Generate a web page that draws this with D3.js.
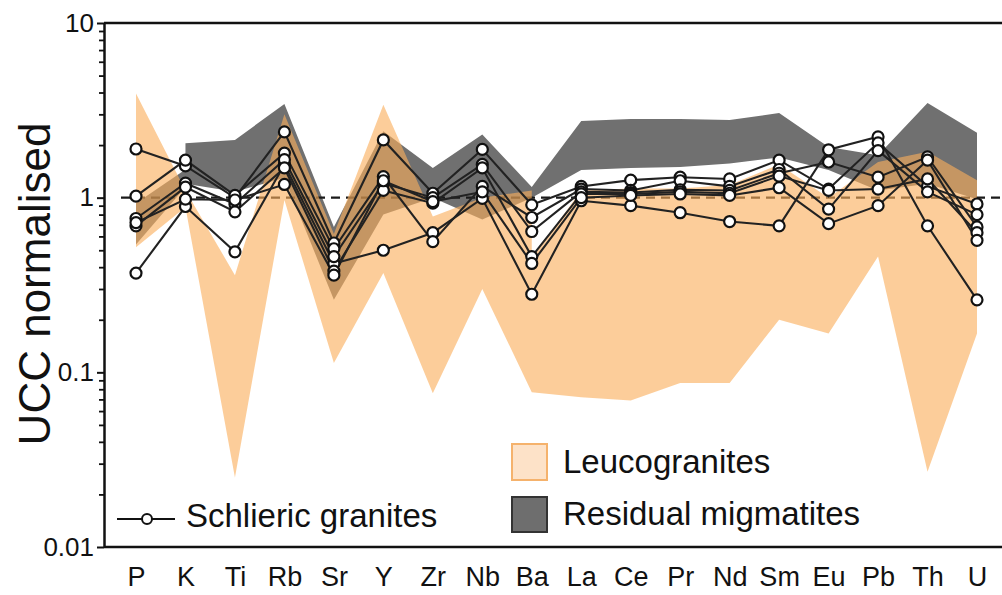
<!DOCTYPE html>
<html>
<head>
<meta charset="utf-8">
<script src="https://cdn.jsdelivr.net/npm/d3@7"></script>
<style>
  body { margin: 0; background: #fff; }
  svg { display: block; }
  text { font-family: "Liberation Sans", Arial, sans-serif; fill: #111; }
</style>
</head>
<body>
<svg id="chart" width="1002" height="595"></svg>
<script>
// Elements on the x axis (UCC-normalised spider diagram)
const elements = ["P", "K", "Ti", "Rb", "Sr", "Y", "Zr", "Nb", "Ba", "La", "Ce", "Pr", "Nd", "Sm", "Eu", "Pb", "Th", "U"];
const traceElements = elements.slice(0, 9);   // P ... Ba
const reeElements = elements.slice(8);        // Ba ... U
const headElements = elements.slice(0, 2);    // P, K
const tailElements = elements.slice(1);       // K ... U

// Log axis ticks
const yTickValues = [0.01, 0.1, 1, 10];
const yTickLabels = ["0.01", "0.1", "1", "10"];

// Leucogranite field, P to Ba (upper / lower envelope)
const leucoTraceHigh = [3.95, 1.1, 0.36, 3.0, 0.62, 3.4, 0.78, 1.0, 1.1];
const leucoTraceLow  = [0.52, 0.88, 0.025, 0.97, 0.113, 0.37, 0.076, 0.30, 0.077];
// Leucogranite field, Ba to U (upper / lower envelope)
const leucoReeHigh = [0.45, 1.1, 1.13, 1.13, 1.18, 1.55, 1.0, 1.6, 1.83, 1.26];
const leucoReeLow  = [0.077, 0.072, 0.069, 0.087, 0.087, 0.2, 0.167, 0.46, 0.027, 0.167];

// Residual migmatite field, P to K (upper / lower envelope)
const residHeadHigh = [0.93, 1.45];
const residHeadLow  = [0.54, 1.15];
// Residual migmatite field, K to U (upper / lower envelope)
const residHigh = [2.05, 2.14, 3.44, 0.68, 2.4, 1.48, 2.3, 1.15, 2.75, 2.82, 2.82, 2.78, 3.05, 1.95, 1.75, 3.48, 2.35];
const residLow  = [1.2, 1.08, 1.3, 0.26, 0.8, 1.0, 0.75, 1.0, 1.44, 1.48, 1.5, 1.57, 1.7, 1.44, 1.1, 1.2, 0.98];

// Schlieric granite samples
const sampleA = [0.37, 0.89, 0.49, 1.55, 0.42, 0.50, 0.63, 0.99, 0.28, 0.96, 0.90, 0.82, 0.73, 0.69, 1.88, 2.23, 0.69, 0.26];
const sampleB = [1.90, 1.52, 1.00, 2.38, 0.55, 2.14, 1.06, 1.89, 0.91, 1.16, 1.26, 1.31, 1.28, 1.64, 1.12, 2.06, 1.16, 0.92];
const sampleC = [1.02, 1.64, 1.03, 1.80, 0.51, 1.32, 0.56, 1.16, 0.77, 1.12, 1.10, 1.25, 1.16, 1.45, 0.86, 1.86, 1.08, 0.80];
const sampleD = [0.76, 1.21, 0.92, 1.65, 0.46, 1.21, 1.00, 1.55, 0.64, 1.08, 1.07, 1.11, 1.10, 1.38, 1.60, 1.31, 1.71, 0.68];
const sampleE = [0.69, 1.15, 0.83, 1.48, 0.38, 1.10, 0.93, 1.48, 0.46, 1.05, 1.05, 1.08, 1.06, 1.33, 1.10, 1.12, 1.28, 0.63];
const sampleF = [0.72, 0.98, 0.97, 1.19, 0.36, 1.25, 0.95, 1.08, 0.42, 1.00, 1.03, 1.05, 1.03, 1.14, 0.71, 0.90, 1.64, 0.57];
const schlieric = [sampleA, sampleB, sampleC, sampleD, sampleE, sampleF];

const svg = d3.select("#chart");
const plotLeft = 104, plotTop = 23, plotBottom = 547, plotRight = 1010;

const x = d3.scalePoint().domain(elements).range([136, 977]);
const y = d3.scaleLog().domain([0.01, 10]).range([plotBottom, plotTop]);

const fieldPath = (names, hi, lo) => d3.area()
  .x((d, i) => x(names[i]))
  .y1(d => y(d))
  .y0((d, i) => y(lo[i]))(hi);

// residual migmatite field
svg.append("path")
  .attr("d", fieldPath(headElements, residHeadHigh, residHeadLow) +
             fieldPath(tailElements, residHigh, residLow))
  .attr("fill", "#707070");

// reference line at UCC = 1
svg.append("line")
  .attr("x1", 121).attr("x2", plotRight)
  .attr("y1", y(1)).attr("y2", y(1))
  .attr("stroke", "#1a1a1a").attr("stroke-width", 2.2)
  .attr("stroke-dasharray", "9,6");

// leucogranite field (two joined polygons in one path), translucent so overlaps read darker
svg.append("path")
  .attr("d", fieldPath(traceElements, leucoTraceHigh, leucoTraceLow) +
             fieldPath(reeElements, leucoReeHigh, leucoReeLow))
  .attr("fill", "#faaf5c")
  .attr("fill-opacity", 0.62);

// frame lines (top and bottom)
svg.append("line").attr("x1", plotLeft).attr("x2", plotRight).attr("y1", plotTop).attr("y2", plotTop)
  .attr("stroke", "#111").attr("stroke-width", 2.5);
svg.append("line").attr("x1", plotLeft).attr("x2", plotRight).attr("y1", plotBottom).attr("y2", plotBottom)
  .attr("stroke", "#111").attr("stroke-width", 2.5);

// y axis: major ticks with labels
const yAxis = svg.append("g")
  .attr("transform", `translate(${plotLeft},0)`)
  .call(d3.axisLeft(y).tickValues(yTickValues)
    .tickFormat((d, i) => yTickLabels[i])
    .tickSize(7).tickSizeOuter(0).tickPadding(3));
yAxis.select(".domain").attr("stroke", "#111").attr("stroke-width", 2.5);
yAxis.selectAll(".tick line").attr("stroke", "#111").attr("stroke-width", 2);
yAxis.selectAll("text").style("font-family", '"Liberation Sans", Arial, sans-serif')
  .style("font-size", "26px").attr("fill", "#111");

// y axis: minor ticks
const minorTicks = [];
[0.01, 0.1, 1].forEach(dec => { for (let k = 2; k <= 9; k++) minorTicks.push(dec * k); });
const yMinor = svg.append("g")
  .attr("transform", `translate(${plotLeft},0)`)
  .call(d3.axisLeft(y).tickValues(minorTicks).tickFormat("").tickSize(5).tickSizeOuter(0));
yMinor.select(".domain").remove();
yMinor.selectAll(".tick line").attr("stroke", "#111").attr("stroke-width", 1.8);

// x axis labels
const xAxis = svg.append("g")
  .attr("transform", `translate(0,${plotBottom})`)
  .call(d3.axisBottom(x).tickSize(0).tickPadding(20));
xAxis.select(".domain").remove();
xAxis.selectAll("text").style("font-family", '"Liberation Sans", Arial, sans-serif')
  .style("font-size", "27px").attr("fill", "#111");

// y axis title
svg.append("text")
  .attr("transform", "translate(50,284) rotate(-90)")
  .attr("text-anchor", "middle")
  .style("font-size", "44px")
  .text("UCC normalised");

// sample lines and markers
const line = d3.line().x((d, i) => x(elements[i])).y(d => y(d));
const lines = svg.append("g");
schlieric.forEach(s => {
  lines.append("path").attr("d", line(s))
    .attr("fill", "none").attr("stroke", "#222").attr("stroke-width", 2.1);
});
const dots = svg.append("g");
schlieric.forEach(s => {
  dots.selectAll(null).data(s).enter().append("circle")
    .attr("cx", (d, i) => x(elements[i]))
    .attr("cy", d => y(d))
    .attr("r", 5.5)
    .attr("fill", "#fff").attr("stroke", "#111").attr("stroke-width", 2.2);
});

// legend
const lg = svg.append("g");
lg.append("line").attr("x1", 117).attr("x2", 175).attr("y1", 519).attr("y2", 519)
  .attr("stroke", "#111").attr("stroke-width", 2.2);
lg.append("circle").attr("cx", 147).attr("cy", 519).attr("r", 5)
  .attr("fill", "#fff").attr("stroke", "#111").attr("stroke-width", 2);
lg.append("text").attr("x", 186).attr("y", 527).style("font-size", "33px").text("Schlieric granites");

lg.append("rect").attr("x", 512).attr("y", 444).attr("width", 35).attr("height", 36)
  .attr("fill", "#fde2c8").attr("stroke", "#f5b26c").attr("stroke-width", 2);
lg.append("text").attr("x", 563).attr("y", 473).style("font-size", "33px").text("Leucogranites");

lg.append("rect").attr("x", 512).attr("y", 497).attr("width", 35).attr("height", 35)
  .attr("fill", "#6e6e6e").attr("stroke", "#333").attr("stroke-width", 2);
lg.append("text").attr("x", 563).attr("y", 525).style("font-size", "33px").text("Residual migmatites");
</script>
</body>
</html>
